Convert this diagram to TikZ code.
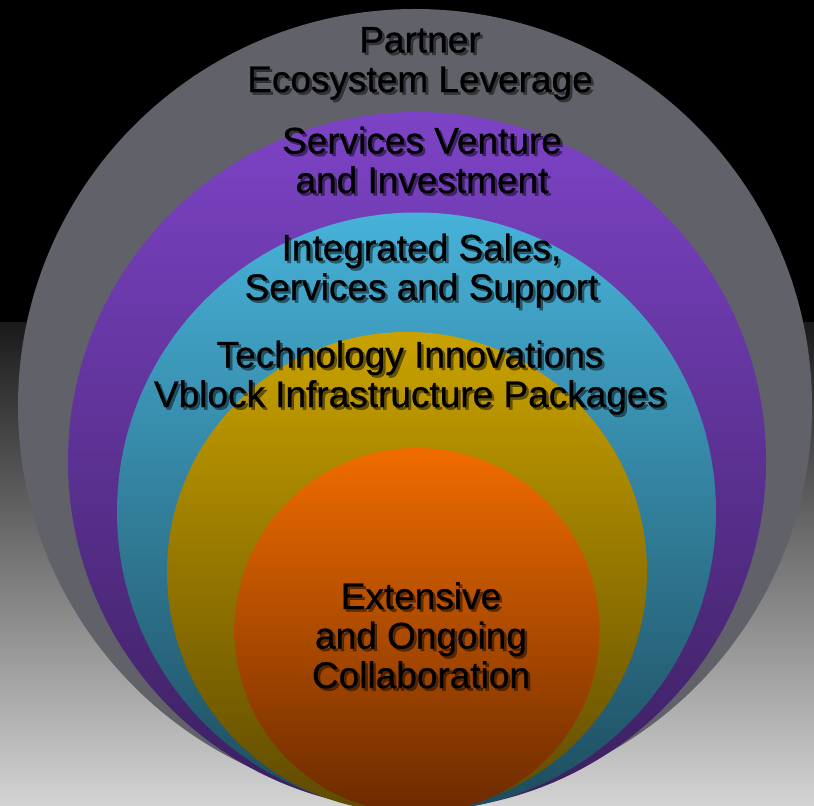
\documentclass[tikz,border=0pt]{standalone}
\usepackage{fontspec}
\setmainfont{Liberation Sans}
\newfontfamily\ringfont{Liberation Sans}[FakeBold=0.7]
\definecolor{bgtop}{HTML}{1A1A1A}
\definecolor{bgbot}{HTML}{D4D4D4}
\definecolor{ringgray}{HTML}{606169}
\definecolor{purtop}{HTML}{7D43C6}
\definecolor{purbot}{HTML}{3A1F5E}
\definecolor{cyntop}{HTML}{47B2D9}
\definecolor{cynbot}{HTML}{1D4B5C}
\definecolor{goltop}{HTML}{C9A200}
\definecolor{golbot}{HTML}{5E4A00}
\definecolor{orgtop}{HTML}{F06C00}
\definecolor{orgbot}{HTML}{6B2A00}
\tikzset{
  lbl/.style={align=center, anchor=base, inner sep=0pt, text=black,
    font=\ringfont\fontsize{37bp}{39.5bp}\selectfont},
  shd/.style={lbl, text=black, text opacity=0.45},
}
\begin{document}
\begin{tikzpicture}[x=1bp,y=-1bp]
\useasboundingbox (0,0) rectangle (814,806);
\clip (0,0) rectangle (814,806);
% background
\fill[black] (0,0) rectangle (814,322);
\shade[top color=bgtop, bottom color=bgbot] (0,322) rectangle (814,806);
% rings
\fill[ringgray] (415,406) circle[radius=397bp];
\shade[top color=purtop, bottom color=purbot] (417,461) circle[radius=349bp];
\shade[top color=cyntop, bottom color=cynbot] (416.5,512) circle[radius=299.5bp];
\shade[top color=goltop, bottom color=golbot] (407,572) circle[radius=240bp];
\shade[top color=orgtop, bottom color=orgbot] (417,630.5) circle[radius=182.5bp];
% shadows
\node[shd] (s1) at (422.5,94.5) {Partner\\Ecosystem Leverage};
\node[shd] (s2) at (424.5,195.5) {Services Venture\\and Investment};
\node[shd] (s3) at (424,302.5) {Integrated Sales,\\Services and Support};
\node[shd] (s4) at (412.5,409.5) {Technology Innovations\\Vblock Infrastructure Packages};
\node[shd] (s5) at (423.5,690.5) {Extensive\\and Ongoing\\Collaboration};
% labels
\node[lbl] (t1) at (420,92) {Partner\\Ecosystem Leverage};
\node[lbl] (t2) at (422,193) {Services Venture\\and Investment};
\node[lbl] (t3) at (421.5,300) {Integrated Sales,\\Services and Support};
\node[lbl] (t4) at (410,407) {Technology Innovations\\Vblock Infrastructure Packages};
\node[lbl] (t5) at (421,688) {Extensive\\and Ongoing\\Collaboration};
\end{tikzpicture}
\end{document}
